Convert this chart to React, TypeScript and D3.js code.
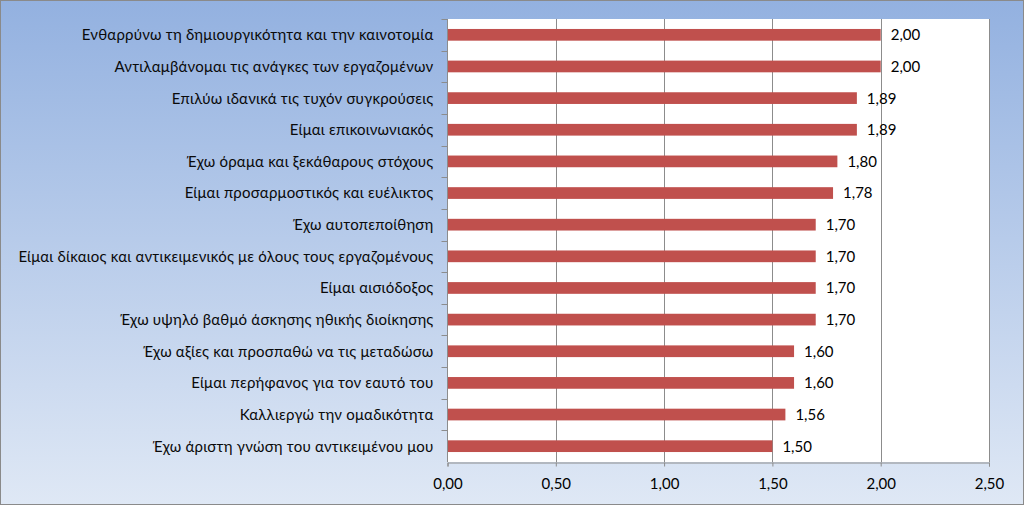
import React, { useEffect, useRef } from "react";
import * as d3 from "d3";

// categories, top to bottom
const categories = [
  "Ενθαρρύνω τη δημιουργικότητα και την καινοτομία",
  "Αντιλαμβάνομαι τις ανάγκες των εργαζομένων",
  "Επιλύω ιδανικά τις τυχόν συγκρούσεις",
  "Είμαι επικοινωνιακός",
  "Έχω όραμα και ξεκάθαρους στόχους",
  "Είμαι προσαρμοστικός και ευέλικτος",
  "Έχω αυτοπεποίθηση",
  "Είμαι δίκαιος και αντικειμενικός με όλους τους εργαζομένους",
  "Είμαι αισιόδοξος",
  "Έχω υψηλό βαθμό άσκησης ηθικής διοίκησης",
  "Έχω αξίες και προσπαθώ να τις μεταδώσω",
  "Είμαι περήφανος για τον εαυτό του",
  "Καλλιεργώ την ομαδικότητα",
  "Έχω άριστη γνώση του αντικειμένου μου",
];
const values = [2.0, 2.0, 1.89, 1.89, 1.8, 1.78, 1.7, 1.7, 1.7, 1.7, 1.6, 1.6, 1.56, 1.5];
const xTicks = [0, 0.5, 1, 1.5, 2, 2.5];

const W = 1024;
const H = 505;
const FONT = "Lato, 'Open Sans', sans-serif";
const fmt = (v: number) => v.toFixed(2).replace(".", ",");

const App = () => {
  const svgRef = useRef<SVGSVGElement>(null);

  useEffect(() => {
    const svg = d3.select(svgRef.current);
    svg.selectAll("*").remove();

    const margin = { top: 19, right: 35, bottom: 43, left: 447.5 };

    const x = d3.scaleLinear().domain([0, 2.5]).range([margin.left, W - margin.right]);
    const y = d3.scaleBand().domain(categories).range([margin.top, H - margin.bottom]).paddingInner(0.63).paddingOuter(0.315);
    const yOuter = d3.scaleBand().domain(categories).range([margin.top, H - margin.bottom]);

    const defs = svg.append("defs");
    const grad = defs.append("linearGradient").attr("id", "bg").attr("x1", 0).attr("y1", 0).attr("x2", 0).attr("y2", 1);
    grad.append("stop").attr("offset", "0%").attr("stop-color", "#93b1e0");
    grad.append("stop").attr("offset", "100%").attr("stop-color", "#dfe8f5");

    // background
    svg.append("rect")
      .attr("x", 0.5).attr("y", 0.5)
      .attr("width", W - 1).attr("height", H - 1)
      .attr("fill", "url(#bg)")
      .attr("stroke", "#8a8a8a");

    // plot area
    svg.append("rect")
      .attr("x", margin.left).attr("y", margin.top)
      .attr("width", x(2.5) - margin.left).attr("height", H - margin.bottom - margin.top)
      .attr("fill", "#ffffff");

    // gridlines
    svg.append("g")
      .selectAll("line")
      .data(xTicks.slice(1))
      .join("line")
      .attr("x1", (d) => Math.round(x(d)) + 0.5)
      .attr("x2", (d) => Math.round(x(d)) + 0.5)
      .attr("y1", margin.top)
      .attr("y2", H - margin.bottom)
      .attr("stroke", "#8c8c8c");

    // bars
    svg.append("g")
      .selectAll("rect")
      .data(values)
      .join("rect")
      .attr("x", x(0))
      .attr("y", (d, i) => y(categories[i])!)
      .attr("width", (d) => x(d) - x(0))
      .attr("height", y.bandwidth())
      .attr("fill", "#c0504d");

    // value labels
    svg.append("g")
      .selectAll("text")
      .data(values)
      .join("text")
      .attr("x", (d) => x(d) + 10)
      .attr("y", (d, i) => y(categories[i])! + y.bandwidth() / 2)
      .attr("dy", "0.36em")
      .attr("font-family", FONT)
      .attr("font-size", 15)
      .attr("fill", "#000")
      .text((d) => fmt(d));

    // x axis
    const xAxis = d3.axisBottom(x).tickValues(xTicks).tickSize(4).tickPadding(12).tickFormat((d) => fmt(+d));
    const gx = svg.append("g")
      .attr("transform", `translate(0,${Math.round(H - margin.bottom) + 0.5})`)
      .call(xAxis);
    gx.select(".domain").attr("stroke", "#8c8c8c");
    gx.selectAll(".tick line").attr("stroke", "#8c8c8c");
    gx.selectAll("text").attr("font-family", FONT).attr("font-size", 15).attr("fill", "#000");

    // y axis: line + ticks at band boundaries
    const gy = svg.append("g");
    gy.append("line")
      .attr("x1", Math.round(margin.left) - 0.5).attr("x2", Math.round(margin.left) - 0.5)
      .attr("y1", margin.top).attr("y2", H - margin.bottom)
      .attr("stroke", "#8c8c8c");
    gy.selectAll("line.t")
      .data(categories)
      .join("line")
      .attr("class", "t")
      .attr("x1", margin.left - 6).attr("x2", margin.left)
      .attr("y1", (d) => Math.round(yOuter(d)!) + 0.5)
      .attr("y2", (d) => Math.round(yOuter(d)!) + 0.5)
      .attr("stroke", "#8c8c8c");
    gy.selectAll("text")
      .data(categories)
      .join("text")
      .attr("x", margin.left - 14)
      .attr("y", (d) => yOuter(d)! + yOuter.bandwidth() / 2)
      .attr("dy", "0.36em")
      .attr("text-anchor", "end")
      .attr("font-family", FONT)
      .attr("font-size", 15)
      .attr("letter-spacing", 0.2)
      .attr("fill", "#0a0a0a")
      .text((d) => d);
  }, []);

  return (
    <svg
      ref={svgRef}
      width={W}
      height={H}
      style={{ position: "absolute", left: 0, top: 0, display: "block" }}
    />
  );
};

export default App;
